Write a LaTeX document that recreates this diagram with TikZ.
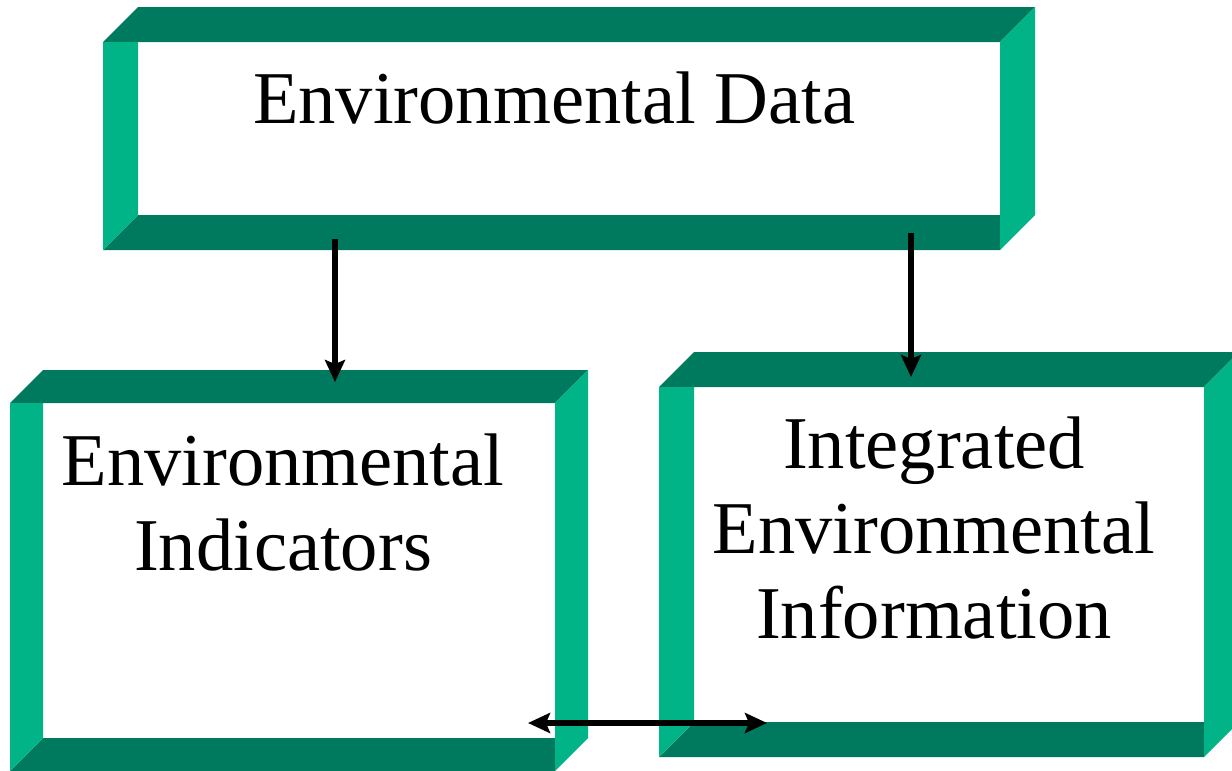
\documentclass[tikz,border=0pt]{standalone}
\usepackage{fontspec}
\setmainfont{Liberation Serif}
\usepackage{xcolor}
\usepackage{tikz}
\usetikzlibrary{arrows.meta}
\definecolor{frame_dark}{RGB}{0,122,94}
\definecolor{frame_light}{RGB}{0,180,135}
\tikzset{
    white_box/.style = {rectangle, fill=white, inner sep=0pt, outer sep=0pt},
    dark_band/.style = {fill=frame_dark},
    light_band/.style = {fill=frame_light},
    box_text/.style = {align=center, inner sep=0pt, text centered, font=\fontsize{74.5}{85}\selectfont},
    flow/.style = {line width=6pt}
}
% name, left, top, right, bottom, depth (pixel units)
\newcommand{\bevelbox}[6]{
    \node[white_box, minimum width={#4-#2}, minimum height={#5-#3}] (#1) at ({(#2+#4)/2},{(#3+#5)/2}) {};
    \fill[dark_band] ({#2-#6},#3) -- (#2,{#3-#6}) -- ({#4+#6},{#3-#6}) -- (#4,#3) -- cycle;
    \fill[dark_band] (#2,#5) -- (#4,#5) -- (#4,{#5+#6}) -- ({#2-#6},{#5+#6}) -- cycle;
    \fill[light_band] ({#2-#6},#3) -- (#2,#3) -- (#2,#5) -- ({#2-#6},{#5+#6}) -- cycle;
    \fill[light_band] (#4,#3) -- ({#4+#6},{#3-#6}) -- ({#4+#6},#5) -- (#4,{#5+#6}) -- cycle;
}
\begin{document}
\begin{tikzpicture}[x=1pt, y=-1pt, >={Stealth[length=22pt, width=20pt, inset=4pt]}]
    \useasboundingbox (0,0) rectangle (1232,771);
    \bevelbox{data}{138}{42}{1000}{215}{35}
    \bevelbox{ind}{43}{403}{555}{738}{33}
    \bevelbox{info}{694}{387}{1204}{722}{35}

    \node[box_text, anchor=base] (data_text) at (554,123) {Environmental Data};
    \node[box_text, anchor=base] (ind_text) at (283,570) {Environmental\\Indicators};
    \node[box_text, anchor=base] (info_text) at (934,638) {Integrated\\Environmental\\Information};

    \draw[flow, ->] ([xshift=197pt, yshift=-24pt]data.south west) -- ([xshift=36pt, yshift=21pt]ind.north);
    \draw[flow, ->] ([xshift=-89pt, yshift=-18pt]data.south east) -- ([xshift=-38pt, yshift=10pt]info.north);
    \draw[flow, <->] ([xshift=-27pt, yshift=15pt]ind.south east) -- ([xshift=73pt, yshift=-1pt]info.south west);
\end{tikzpicture}
\end{document}
